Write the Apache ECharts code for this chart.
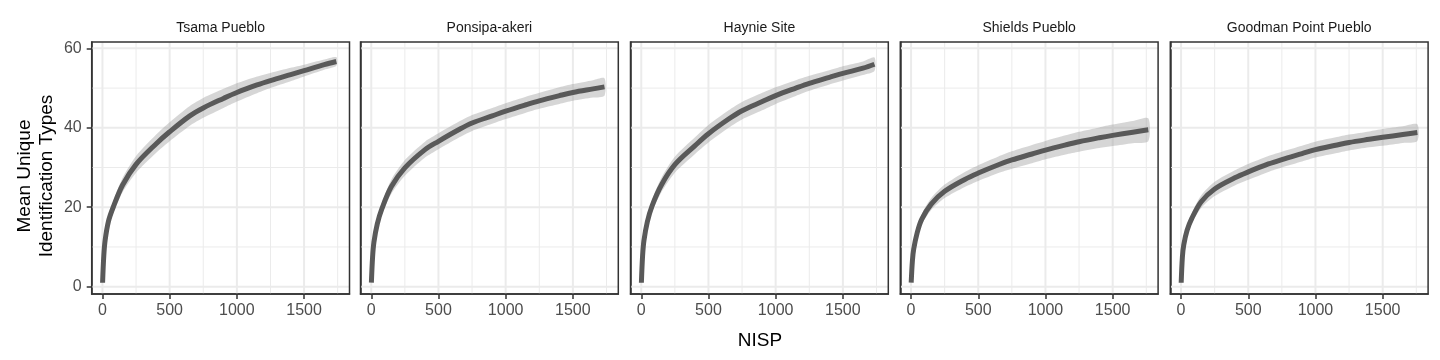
<!DOCTYPE html>
<html>
<head>
<meta charset="utf-8">
<script src="https://cdn.jsdelivr.net/npm/echarts@6/dist/echarts.min.js"></script>
<style>
html,body{margin:0;padding:0;background:#fff;}
#chart{width:1440px;height:360px;}
</style>
</head>
<body>
<div id="chart"></div>
<script>
// ---------- data ----------
const sites = ['Tsama Pueblo', 'Ponsipa-akeri', 'Haynie Site', 'Shields Pueblo', 'Goodman Point Pueblo'];
const nispSteps = [1, 10, 20, 45, 80, 150, 250, 400, 500, 650, 750, 900, 1000, 1150, 1250, 1400, 1500, 1650];
const nispMax = [1740, 1735, 1735, 1765, 1758];

const tsamaMean    = [1.0, 7.8, 11.7, 16.5, 20.0, 25.6, 30.8, 36.0, 39.0, 43.0, 45.0, 47.4, 48.9, 50.8, 51.9, 53.4, 54.4, 55.9, 56.7];
const tsamaCi      = [0.0, 0.6, 0.9, 1.2, 1.5, 1.8, 2.1, 2.3, 2.4, 2.5, 2.5, 2.4, 2.3, 2.1, 1.9, 1.7, 1.5, 1.3, 1.1];
const ponsipaMean  = [1.0, 7.5, 11.2, 15.8, 19.7, 25.2, 29.9, 34.5, 36.6, 39.5, 41.2, 43.0, 44.2, 45.8, 46.8, 48.1, 48.9, 49.8, 50.3];
const ponsipaCi    = [0.0, 0.6, 0.9, 1.2, 1.5, 1.8, 2.0, 2.0, 2.0, 2.0, 2.0, 2.0, 2.0, 2.0, 2.0, 2.1, 2.1, 2.2, 2.2];
const haynieMean   = [1.0, 7.8, 11.6, 16.3, 20.3, 25.6, 30.7, 35.5, 38.5, 42.2, 44.3, 46.6, 48.1, 50.0, 51.2, 52.7, 53.7, 55.0, 56.0];
const haynieCi     = [0.0, 0.6, 0.9, 1.2, 1.5, 1.8, 2.0, 2.1, 2.2, 2.2, 2.2, 2.2, 2.1, 2.0, 1.9, 1.8, 1.8, 1.7, 1.7];
const shieldsMean  = [1.0, 6.5, 9.5, 13.5, 17.0, 20.8, 24.0, 27.0, 28.6, 30.7, 31.9, 33.4, 34.4, 35.7, 36.5, 37.5, 38.1, 38.9, 39.5];
const shieldsCi    = [0.0, 0.5, 0.8, 1.1, 1.3, 1.5, 1.7, 1.9, 2.0, 2.1, 2.2, 2.3, 2.3, 2.4, 2.5, 2.6, 2.7, 2.8, 2.9];
const goodmanMean  = [1.0, 7.5, 10.5, 14.2, 17.2, 21.4, 24.6, 27.4, 28.9, 30.9, 32.0, 33.5, 34.5, 35.6, 36.3, 37.1, 37.6, 38.3, 38.8];
const goodmanCi    = [0.0, 0.5, 0.8, 1.1, 1.3, 1.6, 1.8, 1.9, 2.0, 2.0, 2.0, 2.0, 2.0, 2.0, 2.0, 2.0, 2.1, 2.1, 2.1];

const xMajorTicks = [0, 500, 1000, 1500];
const xMinorTicks = [250, 750, 1250, 1750];
const yMajorTicks = [0, 20, 40, 60];
const yMinorTicks = [10, 30, 50];

const meanSets = [tsamaMean, ponsipaMean, haynieMean, shieldsMean, goodmanMean];
const ciSets = [tsamaCi, ponsipaCi, haynieCi, shieldsCi, goodmanCi];

// ---------- layout ----------
const X_MIN = -80, X_MAX = 1838, Y_MIN = -1.84, Y_MAX = 61.6;
const gridLefts = [91.7, 360.5, 630.5, 900.3, 1170.3];
const gridW = 257.8, gridTop = 42, gridH = 252;
const FONT = '"Liberation Sans", Arial, sans-serif';

const chart = echarts.init(document.getElementById('chart'), null, {renderer: 'canvas'});

const grids = [], xAxes = [], yAxes = [], series = [], graphics = [];
const fmt = v => String(v);

sites.forEach((site, i) => {
  const xs = nispSteps.concat([nispMax[i]]);
  const mean = meanSets[i], ci = ciSets[i];
  grids.push({
    left: gridLefts[i], top: gridTop, width: gridW, height: gridH,
    show: true, borderColor: '#333333', borderWidth: 1.5, backgroundColor: 'transparent', z: 10
  });
  xAxes.push({
    gridIndex: i, type: 'value', min: X_MIN, max: X_MAX, position: 'bottom',
    axisLine: {show: true, onZero: false, lineStyle: {color: '#333333', width: 1.5}},
    axisTick: {show: true, length: 5, lineStyle: {color: '#333333', width: 1.5}, customValues: xMajorTicks},
    axisLabel: {show: true, customValues: xMajorTicks, formatter: fmt, color: '#4D4D4D', fontSize: 16, fontFamily: FONT, margin: 9},
    splitLine: {show: false}
  });
  yAxes.push({
    gridIndex: i, type: 'value', min: Y_MIN, max: Y_MAX, position: 'left',
    axisLine: {show: true, onZero: false, lineStyle: {color: '#333333', width: 1.5}},
    axisTick: {show: i === 0, length: 5, lineStyle: {color: '#333333', width: 1.5}, customValues: yMajorTicks},
    axisLabel: {show: i === 0, customValues: yMajorTicks, formatter: fmt, color: '#4D4D4D', fontSize: 16, fontFamily: FONT, margin: 10},
    splitLine: {show: false}
  });
  // ribbon + grid lines
  series.push({
    type: 'custom', xAxisIndex: i, yAxisIndex: i, z: 1, silent: true,
    data: [[0, 0]],
    renderItem: function (params, api) {
      const children = [];
      const vline = (v, w) => {
        const a = api.coord([v, Y_MIN]), b = api.coord([v, Y_MAX]);
        children.push({type: 'line', shape: {x1: a[0], y1: a[1], x2: b[0], y2: b[1]}, style: {stroke: '#EBEBEB', lineWidth: w}});
      };
      const hline = (v, w) => {
        const a = api.coord([X_MIN, v]), b = api.coord([X_MAX, v]);
        children.push({type: 'line', shape: {x1: a[0], y1: a[1], x2: b[0], y2: b[1]}, style: {stroke: '#EBEBEB', lineWidth: w}});
      };
      xMinorTicks.forEach(v => vline(v, 1));
      yMinorTicks.forEach(v => hline(v, 1));
      xMajorTicks.forEach(v => vline(v, 2));
      yMajorTicks.forEach(v => hline(v, 2));
      const pts = [];
      for (let k = 0; k < xs.length; k++) pts.push(api.coord([xs[k], mean[k] + ci[k]]));
      for (let k = xs.length - 1; k >= 0; k--) pts.push(api.coord([xs[k], mean[k] - ci[k]]));
      children.push({type: 'polygon', shape: {points: pts, smooth: 0.25}, style: {fill: 'rgba(153,153,153,0.4)'}});
      return {type: 'group', children: children};
    }
  });
  series.push({
    type: 'line', xAxisIndex: i, yAxisIndex: i, z: 3, silent: true,
    data: xs.map((x, k) => [x, mean[k]]),
    showSymbol: false, symbol: 'none',
    smooth: 0.35,
    lineStyle: {color: '#595959', width: 5, cap: 'butt'}
  });
  graphics.push({
    type: 'text', x: gridLefts[i] + gridW / 2, y: 28,
    style: {text: site, textAlign: 'center', textVerticalAlign: 'middle', fontSize: 14, fontFamily: FONT, fill: '#1A1A1A'}
  });
});

graphics.push({
  type: 'text', x: 760, y: 341,
  style: {text: 'NISP', textAlign: 'center', textVerticalAlign: 'middle', fontSize: 19, fontFamily: FONT, fill: '#000'}
});
graphics.push({
  type: 'text', x: 36, y: 176, rotation: Math.PI / 2,
  style: {text: 'Mean Unique\nIdentification Types', textAlign: 'center', textVerticalAlign: 'middle', fontSize: 19, lineHeight: 22, fontFamily: FONT, fill: '#000'}
});

chart.setOption({
  animation: false,
  backgroundColor: '#ffffff',
  grid: grids, xAxis: xAxes, yAxis: yAxes, series: series, graphic: graphics
});
</script>
</body>
</html>
